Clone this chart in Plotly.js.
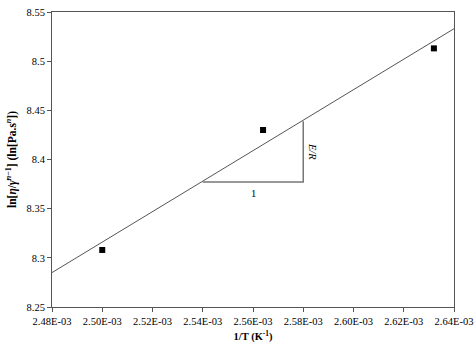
<!DOCTYPE html>
<html><head><meta charset="utf-8">
<script src="https://cdn.plot.ly/plotly-3.0.1.min.js"></script>
<style>html,body{margin:0;padding:0;background:#fff}#c{width:476px;height:350px}</style>
</head><body><div id="c"></div>
<script>
const invT = [0.002500, 0.002564, 0.002632];
const lnVisc = [8.308, 8.430, 8.513];
const fitX = [0.00248, 0.00264];
const fitY = [8.285, 8.533];
const triX = [0.00254, 0.00258, 0.00258];
const triY = [8.377, 8.377, 8.439];
const xTickVals = [0.00248,0.00250,0.00252,0.00254,0.00256,0.00258,0.00260,0.00262,0.00264];
const xTickText = ["2.48E-03","2.50E-03","2.52E-03","2.54E-03","2.56E-03","2.58E-03","2.60E-03","2.62E-03","2.64E-03"];
const yTickVals = [8.25,8.3,8.35,8.4,8.45,8.5,8.55];
const yTickText = ["8.25","8.3","8.35","8.4","8.45","8.5","8.55"];

const fam = "Liberation Serif, Times New Roman, serif";
const font = {family:fam, size:10.5, color:"#000"};
const traces = [
  {x:fitX, y:fitY, mode:"lines", line:{color:"#555", width:1}, hoverinfo:"skip"},
  {x:triX, y:triY, mode:"lines", line:{color:"#777", width:1.5}, hoverinfo:"skip"},
  {x:invT, y:lnVisc, mode:"markers", marker:{symbol:"square", size:6, color:"#000"}}
];
const layout = {
  width:476, height:350, showlegend:false,
  margin:{l:52, r:22, t:12, b:43},
  paper_bgcolor:"#fff", plot_bgcolor:"#fff",
  font:font,
  xaxis:{range:[0.00248,0.00264], tickvals:xTickVals, ticktext:xTickText,
    showgrid:false, zeroline:false, showline:true, linecolor:"#555", linewidth:1, mirror:true,
    ticks:"outside", ticklen:4, tickcolor:"#555", tickfont:font,
    title:{text:"<b>1/T (K<sup>-1</sup>)</b>", font:{family:fam, size:10.5, color:"#000"}, standoff:7}},
  yaxis:{range:[8.25,8.55], tickvals:yTickVals, ticktext:yTickText,
    showgrid:false, zeroline:false, showline:true, linecolor:"#555", linewidth:1, mirror:true,
    ticks:"outside", ticklen:4, tickcolor:"#555", tickfont:font,
    title:{text:"<b>ln[<i>η</i>/<i>γ̇</i><sup><i>n</i>−1</sup>] (ln[Pa.s<sup><i>n</i></sup>])</b>", font:{family:fam, size:11.5, color:"#000"}, standoff:7}},
  annotations:[
    {x:0.00256, y:8.377, xref:"x", yref:"y", text:"1", showarrow:false, yanchor:"top", yshift:-4, font:font},
    {x:0.00258, y:8.408, xref:"x", yref:"y", text:"<i>E/R</i>", showarrow:false, textangle:90, xanchor:"left", xshift:2, font:font}
  ]
};
Plotly.newPlot("c", traces, layout, {displayModeBar:false, staticPlot:true});
</script></body></html>
